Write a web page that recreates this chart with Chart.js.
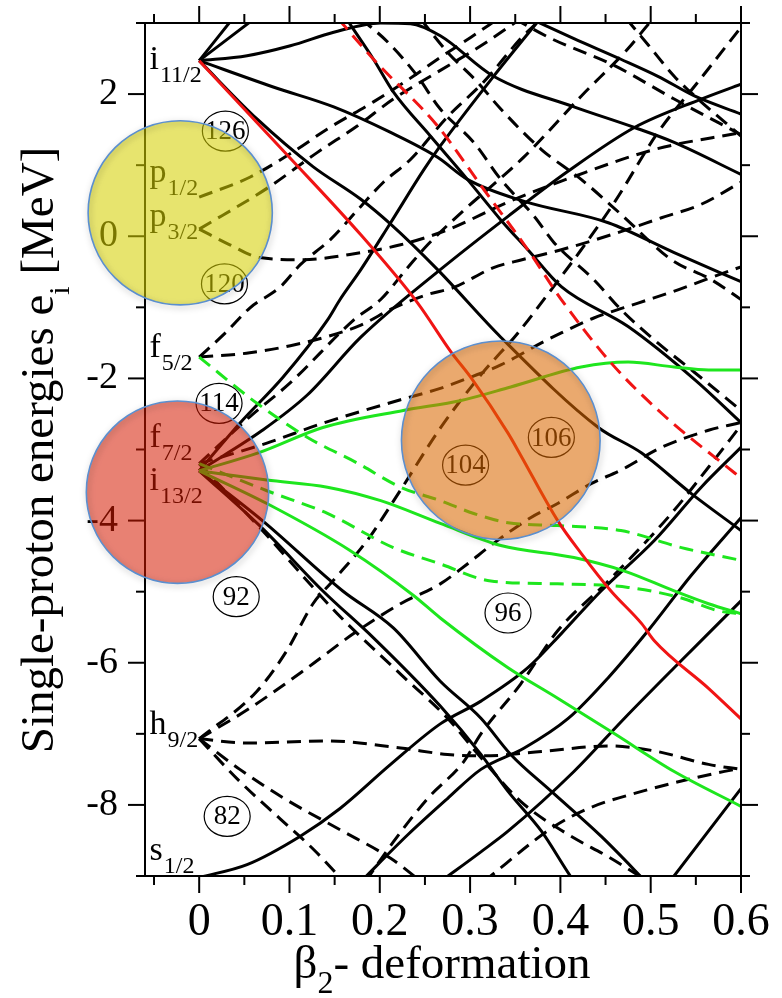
<!DOCTYPE html>
<html>
<head>
<meta charset="utf-8">
<script src="https://cdn.jsdelivr.net/npm/chart.js@4.4.1/dist/chart.umd.min.js"></script>
<style>
html, body { margin: 0; padding: 0; background: #fff; }
#wrap { position: relative; width: 782px; height: 998px; }
</style>
</head>
<body>
<div id="wrap"><canvas id="nilsson"></canvas></div>
<script>
// single-proton levels, [beta2, energy in MeV]

// tick labels
const xTicks = [0, 0.1, 0.2, 0.3, 0.4, 0.5, 0.6];
const yTicks = [-8, -6, -4, -2, 0, 2];

// i11/2 (solid)
const i11_l1 = [[0, 2.47], [0.037, 3.06]];
const i11_l2 = [[0, 2.47], [0.061, 3.06]];
const i11_l3 = [[0, 2.47], [0.053, 2.54], [0.101, 2.68], [0.149, 2.87], [0.201, 3.0], [0.234, 2.99], [0.267, 2.82], [0.326, 2.25], [0.415, 1.82], [0.482, 1.53], [0.526, 1.32], [0.6, 0.87]];
const i11_l4 = [[0, 2.47], [0.082, 2.10], [0.149, 1.82], [0.212, 1.46], [0.264, 1.11], [0.297, 0.80], [0.36, 0.49], [0.453, 0.19], [0.526, -0.23], [0.6, -0.64]];
const i11_l5 = [[0, 2.47], [0.064, 1.65], [0.126, 0.98], [0.179, 0.52], [0.212, 0.17], [0.264, -0.47], [0.334, -1.42], [0.442, -2.69], [0.49, -3.05], [0.545, -3.62], [0.6, -4.14]];
const i11_red = [[0, 2.47], [0.097, 1.15], [0.179, 0.02], [0.242, -0.94], [0.279, -1.63], [0.301, -1.99], [0.342, -2.77], [0.356, -3.08], [0.397, -4.0], [0.423, -4.46], [0.456, -4.99], [0.49, -5.45], [0.504, -5.69], [0.564, -6.36], [0.6, -6.79]];

// levels coming in from above
const top_red = [[0.154, 3.06], [0.193, 2.49], [0.264, 1.55], [0.315, 0.66], [0.364, -0.19], [0.401, -0.89], [0.456, -1.78], [0.512, -2.49], [0.593, -3.33], [0.6, -3.4]];
const top_t1 = [[0.163, 3.06], [0.193, 2.49], [0.215, 2.03], [0.256, 1.41], [0.297, 0.80], [0.334, 0.23], [0.364, -0.19], [0.401, -0.71], [0.475, -1.27], [0.549, -2.02], [0.6, -2.62]];
const top_g = [[0.367, 3.06], [0.415, 2.78], [0.467, 2.49], [0.508, 2.25], [0.549, 1.97], [0.6, 1.72]];
const top_d1 = [[0.349, 3.06], [0.39, 2.78], [0.46, 2.4], [0.526, 1.93], [0.6, 1.43]];
const top_d2 = [[0.473, 3.06], [0.498, 2.68], [0.526, 2.25], [0.549, 1.97], [0.6, 1.41]];
const top_d3 = [[0.245, 3.06], [0.275, 2.59], [0.308, 2.17], [0.334, 1.79], [0.379, 1.22], [0.423, 0.8], [0.467, 0.31], [0.523, -0.33], [0.567, -0.61], [0.6, -0.89]];
const top_d4 = [[0.179, 3.06], [0.209, 2.73], [0.24, 2.28], [0.267, 1.79], [0.304, 1.32], [0.334, 0.8], [0.371, 0.28], [0.393, -0.09], [0.437, -0.61], [0.467, -1.03], [0.504, -1.46], [0.549, -1.92], [0.6, -2.45]];

// p1/2, p3/2 (dashed)
const p1_up = [[0, 0.55], [0.056, 0.83], [0.108, 1.22], [0.142, 1.51], [0.193, 1.89], [0.237, 2.25], [0.264, 2.49], [0.301, 2.8], [0.331, 3.06]];
const p3_up = [[0, 0.1], [0.077, 0.69], [0.131, 1.18], [0.175, 1.55], [0.215, 1.93], [0.264, 2.31], [0.312, 2.68], [0.356, 3.06]];
const p3_dn = [[0, 0.1], [0.034, -0.12], [0.067, -0.3], [0.115, -0.33], [0.179, -0.23], [0.223, -0.12], [0.275, 0.09], [0.342, 0.48], [0.415, 0.84], [0.504, 1.22], [0.6, 1.46]];

// f5/2 (dashed)
const f5_a = [[0, -1.7], [0.056, -1.64], [0.101, -1.54], [0.145, -1.4], [0.179, -1.25], [0.215, -1.01], [0.253, -0.82], [0.282, -0.72], [0.326, -0.44], [0.348, -0.36], [0.401, -0.19], [0.456, 0.02], [0.512, 0.26], [0.556, 0.45], [0.6, 0.76]];
const f5_b = [[0, -1.7], [0.029, -1.36], [0.056, -1.01], [0.09, -0.71], [0.112, -0.4], [0.145, -0.05], [0.179, 0.42], [0.204, 0.76], [0.234, 1.08], [0.275, 1.68], [0.315, 2.17], [0.356, 2.78], [0.375, 3.02], [0.381, 3.11]];
const f5_green = [[0, -1.7], [0.064, -2.35], [0.12, -2.83], [0.175, -3.19], [0.223, -3.53], [0.267, -3.72], [0.304, -3.9], [0.342, -4.03], [0.397, -4.07], [0.467, -4.14], [0.534, -4.38], [0.6, -4.56]];

// f7/2 (dashed)
const f7_b = [[0, -3.2], [0.056, -2.54], [0.101, -2.06], [0.171, -1.18], [0.201, -0.89], [0.231, -0.44], [0.253, -0.12], [0.29, 0.33], [0.36, 1.12], [0.423, 1.97], [0.475, 2.64], [0.5, 3.02], [0.506, 3.1]];
const f7_d = [[0, -3.2], [0.075, -2.91], [0.137, -2.63], [0.223, -2.3], [0.267, -2.14], [0.301, -1.98], [0.334, -1.81], [0.379, -1.5], [0.401, -1.36], [0.437, -1.15], [0.486, -0.94], [0.531, -0.75], [0.567, -0.58], [0.6, -0.43]];
const f7_green = [[0, -3.2], [0.075, -3.58], [0.142, -3.9], [0.215, -4.38], [0.267, -4.61], [0.323, -4.85], [0.397, -4.89], [0.475, -4.94], [0.534, -5.09], [0.575, -5.27], [0.6, -5.31]];
const f7_dn = [[0, -3.2], [0.07, -4.14], [0.153, -5.31], [0.223, -6.16], [0.275, -6.78], [0.309, -7.29], [0.356, -7.95], [0.409, -8.42], [0.453, -8.73], [0.49, -9.02], [0.5, -9.1]];

// i13/2 (solid)
const i13_a = [[0, -3.3], [0.045, -2.63], [0.093, -1.98], [0.142, -1.18], [0.156, -0.89], [0.179, -0.47], [0.212, 0.19], [0.249, 0.94], [0.267, 1.27], [0.326, 2.25], [0.375, 3.02], [0.384, 3.16]];
const i13_c = [[0, -3.3], [0.07, -2.73], [0.12, -2.23], [0.179, -1.42], [0.267, -0.47], [0.342, 0.28], [0.408, 0.91], [0.482, 1.53], [0.556, 1.93], [0.6, 2.14]];
const i13_ga = [[0, -3.3], [0.067, -3.04], [0.137, -2.69], [0.226, -2.45], [0.29, -2.31], [0.345, -2.12], [0.423, -1.84], [0.475, -1.77], [0.526, -1.84], [0.564, -1.88], [0.6, -1.88]];
const i13_gb = [[0, -3.3], [0.075, -3.43], [0.142, -3.53], [0.201, -3.72], [0.267, -4.04], [0.334, -4.35], [0.415, -4.52], [0.471, -4.71], [0.526, -4.99], [0.564, -5.17], [0.6, -5.31]];
const i13_gc = [[0, -3.3], [0.075, -3.76], [0.167, -4.42], [0.237, -5.05], [0.267, -5.37], [0.342, -6.07], [0.397, -6.5], [0.46, -7.0], [0.526, -7.53], [0.6, -8.02]];
const i13_s1 = [[0, -3.3], [0.07, -4.0], [0.159, -4.99], [0.215, -5.51], [0.267, -6.26], [0.312, -6.78], [0.345, -7.29], [0.39, -7.81], [0.445, -8.44], [0.49, -9.02], [0.499, -9.14]];
const i13_s2 = [[0, -3.3], [0.07, -4.11], [0.137, -4.99], [0.193, -5.65], [0.267, -6.61], [0.312, -7.29], [0.342, -7.81], [0.379, -8.37], [0.412, -9.02], [0.419, -9.14]];

// h9/2 (dashed)
const h9_1 = [[0, -7.07], [0.064, -6.4], [0.097, -5.83], [0.126, -5.17], [0.148, -4.85], [0.186, -4.28], [0.223, -3.57], [0.267, -2.7], [0.312, -1.95], [0.353, -1.36], [0.39, -0.75], [0.423, -0.19], [0.46, 0.48], [0.508, 1.46], [0.553, 2.18], [0.6, 2.94]];
const h9_2 = [[0, -7.07], [0.056, -6.64], [0.12, -6.07], [0.171, -5.59], [0.223, -5.17], [0.267, -4.89], [0.297, -4.61], [0.323, -4.35], [0.367, -3.96], [0.397, -3.76], [0.434, -3.48], [0.467, -3.29], [0.512, -2.97], [0.564, -2.73], [0.6, -2.62]];
const h9_3 = [[0, -7.07], [0.053, -7.13], [0.142, -7.1], [0.223, -7.2], [0.275, -7.29], [0.315, -7.31], [0.379, -7.25], [0.453, -7.17], [0.504, -7.24], [0.564, -7.43], [0.6, -7.5]];
const h9_4 = [[0, -7.07], [0.045, -7.5], [0.093, -7.9], [0.156, -8.35], [0.212, -8.75], [0.24, -9.02], [0.25, -9.12]];
const h9_5 = [[0, -7.07], [0.045, -7.67], [0.09, -8.2], [0.127, -8.63], [0.156, -9.02], [0.165, -9.14]];

// s1/2 and levels coming in from below
const s1_a = [[0, -9.02], [0.053, -8.84], [0.112, -8.44], [0.156, -8.05], [0.212, -7.43], [0.267, -6.86], [0.312, -6.54], [0.364, -6.07], [0.401, -5.59], [0.445, -4.99], [0.504, -4.28], [0.556, -3.53], [0.6, -2.97]];
const bot_r2 = [[0.179, -9.08], [0.231, -8.42], [0.275, -7.91], [0.312, -7.5], [0.36, -7.2], [0.409, -6.78], [0.453, -6.21], [0.497, -5.55], [0.545, -4.77], [0.6, -3.96]];
const bot_r3 = [[0.267, -9.08], [0.312, -8.66], [0.342, -8.37], [0.415, -7.53], [0.471, -6.78], [0.526, -6.07], [0.6, -5.13]];
const bot_r5 = [[0.521, -9.08], [0.6, -7.77]];
const bot_d1 = [[0.184, -9.08], [0.215, -8.52], [0.253, -7.91], [0.293, -7.39], [0.312, -7.0], [0.356, -6.3], [0.397, -5.55], [0.453, -4.85], [0.523, -3.9], [0.564, -3.25], [0.6, -2.66]];
const bot_d2 = [[0.315, -9.08], [0.39, -8.33], [0.431, -8.05], [0.49, -7.81], [0.545, -7.63], [0.6, -7.48]];

// spherical shell labels: letter, subscript, baseline energy
const shellLabels = [['i', '11/2', 2.353], ['p', '1/2', 0.758], ['p', '3/2', 0.151], ['f', '5/2', -1.698],
  ['f', '7/2', -2.968], ['i', '13/2', -3.575], ['h', '9/2', -7.005], ['s', '1/2', -8.769]];
// circled proton numbers
const gapLabels = [['126', 0.029, 1.48], ['120', 0.028, -0.67], ['114', 0.022, -2.35], ['92', 0.041, -5.07],
  ['82', 0.031, -8.16], ['96', 0.342, -5.3], ['104', 0.295, -3.22], ['106', 0.39, -2.83]];
// highlight discs: centre x, centre y, radius (in beta2 units)
const discs = [[-0.021, 0.33, 0.102, 'rgba(212,208,0,0.57)'],
  [-0.024, -3.6, 0.101, 'rgba(213,26,0,0.55)'],
  [0.334, -2.87, 0.11, 'rgba(218,104,0,0.57)']];

const RED = '#f01414', GREEN = '#1ee61e', BLACK = '#000000';
const FONT = '"Liberation Serif", "Times New Roman", serif';

// first entries end up on top
const series = [
  [i11_red, RED, false], [top_red, RED, true],
  [i13_ga, GREEN, false], [i13_gb, GREEN, false], [i13_gc, GREEN, false],
  [f5_green, GREEN, true], [f7_green, GREEN, true],
  [i11_l1, BLACK, false], [i11_l2, BLACK, false], [i11_l3, BLACK, false], [i11_l4, BLACK, false], [i11_l5, BLACK, false],
  [top_t1, BLACK, false], [top_g, BLACK, false],
  [i13_a, BLACK, false], [i13_c, BLACK, false], [i13_s1, BLACK, false], [i13_s2, BLACK, false],
  [s1_a, BLACK, false], [bot_r2, BLACK, false], [bot_r3, BLACK, false], [bot_r5, BLACK, false],
  [top_d1, BLACK, true], [top_d2, BLACK, true], [top_d3, BLACK, true], [top_d4, BLACK, true],
  [p1_up, BLACK, true], [p3_up, BLACK, true], [p3_dn, BLACK, true],
  [f5_a, BLACK, true], [f5_b, BLACK, true],
  [f7_b, BLACK, true], [f7_d, BLACK, true], [f7_dn, BLACK, true],
  [h9_1, BLACK, true], [h9_2, BLACK, true], [h9_3, BLACK, true], [h9_4, BLACK, true], [h9_5, BLACK, true],
  [bot_d1, BLACK, true], [bot_d2, BLACK, true]
];

const datasets = series.map(([pts, color, dashed]) => ({
  data: pts.map(p => ({ x: p[0], y: p[1] })),
  showLine: true,
  borderColor: color,
  borderWidth: 3,
  borderDash: dashed ? [14, 8] : [],
  pointRadius: 0,
  cubicInterpolationMode: 'monotone'
}));

function seg(ctx, x1, y1, x2, y2) {
  ctx.beginPath(); ctx.moveTo(x1, y1); ctx.lineTo(x2, y2); ctx.stroke();
}

// keep the plot box where the figure has it: no extra label padding
function noPad(s) {
  s.paddingTop = 0; s.paddingBottom = 0; s.paddingLeft = 0; s.paddingRight = 0;
}

const decorations = {
  id: 'decorations',
  afterDatasetsDraw(chart) {
    const { ctx, chartArea: a, scales: { x, y } } = chart;
    ctx.save();
    // frame with outward ticks on all four sides
    ctx.strokeStyle = '#000';
    ctx.lineWidth = 2;
    ctx.strokeRect(a.left, a.top, a.right - a.left, a.bottom - a.top);
    for (let i = -1; i <= 12; i++) {
      const px = x.getPixelForValue(i * 0.05);
      const len = i % 2 === 0 ? 17 : 9;
      seg(ctx, px, a.bottom, px, a.bottom + len);
      seg(ctx, px, a.top, px, a.top - len);
    }
    for (let v = -9; v <= 3; v++) {
      const py = y.getPixelForValue(v);
      const len = v % 2 === 0 ? 17 : 9;
      seg(ctx, a.left - len, py, a.left, py);
      seg(ctx, a.right, py, a.right + len, py);
    }
    // shell labels
    ctx.fillStyle = '#000';
    ctx.textBaseline = 'alphabetic';
    ctx.textAlign = 'left';
    const lx = x.getPixelForValue(-0.055);
    shellLabels.forEach(([main, sub, e]) => {
      const py = y.getPixelForValue(e);
      ctx.font = '34px ' + FONT;
      ctx.fillText(main, lx, py);
      const w = ctx.measureText(main).width;
      ctx.font = '24px ' + FONT;
      ctx.fillText(sub, lx + w + 1, py + 13);
    });
    // circled numbers
    ctx.lineWidth = 1.2;
    ctx.textAlign = 'center';
    ctx.textBaseline = 'middle';
    ctx.font = '27px ' + FONT;
    gapLabels.forEach(([t, bx, e]) => {
      const px = x.getPixelForValue(bx), py = y.getPixelForValue(e);
      ctx.beginPath();
      ctx.ellipse(px, py, 23, 20, 0, 0, Math.PI * 2);
      ctx.stroke();
      ctx.fillText(t, px, py + 1);
    });
    ctx.restore();
  },
  afterDraw(chart) {
    const { ctx, scales: { x, y } } = chart;
    ctx.save();
    ctx.fillStyle = '#000';
    ctx.textBaseline = 'alphabetic';
    ctx.textAlign = 'left';
    // y title, rotated, with subscript i
    ctx.save();
    ctx.translate(53, 450);
    ctx.rotate(-Math.PI / 2);
    const t1 = 'Single-proton energies e', t2 = 'i', t3 = ' [MeV]';
    ctx.font = '47px ' + FONT;
    const w1 = ctx.measureText(t1).width, w3 = ctx.measureText(t3).width;
    ctx.font = '30px ' + FONT;
    const w2 = ctx.measureText(t2).width;
    let sx = -(w1 + w2 + w3) / 2;
    ctx.font = '47px ' + FONT;
    ctx.fillText(t1, sx, 0);
    ctx.font = '30px ' + FONT;
    ctx.fillText(t2, sx + w1, 16);
    ctx.font = '47px ' + FONT;
    ctx.fillText(t3, sx + w1 + w2, 0);
    ctx.restore();
    // x title with subscript 2
    const b1 = '\u03b2', b2 = '2', b3 = '- deformation';
    ctx.font = '47px ' + FONT;
    const v1 = ctx.measureText(b1).width, v3 = ctx.measureText(b3).width;
    ctx.font = '32px ' + FONT;
    const v2 = ctx.measureText(b2).width;
    let bx = 442 - (v1 + v2 + v3) / 2;
    ctx.font = '47px ' + FONT;
    ctx.fillText(b1, bx, 978);
    ctx.font = '32px ' + FONT;
    ctx.fillText(b2, bx + v1, 993);
    ctx.font = '47px ' + FONT;
    ctx.fillText(b3, bx + v1 + v2, 978);
    // translucent highlight discs on top of everything
    discs.forEach(([cx, cy, r, fill]) => {
      const px = x.getPixelForValue(cx), py = y.getPixelForValue(cy);
      const rp = x.getPixelForValue(cx + r) - px;
      ctx.beginPath();
      ctx.arc(px, py, rp, 0, Math.PI * 2);
      ctx.fillStyle = fill;
      ctx.fill();
      ctx.shadowColor = 'rgba(0,0,0,0.35)';
      ctx.shadowBlur = 6;
      ctx.shadowOffsetX = 1;
      ctx.shadowOffsetY = 2;
      ctx.strokeStyle = '#5b8fcf';
      ctx.lineWidth = 1.6;
      ctx.stroke();
      ctx.shadowColor = 'transparent';
    });
    ctx.restore();
  }
};

const fmt = v => (Math.abs(v) < 1e-9 ? '0' : String(Math.round(v * 10) / 10));

new Chart(document.getElementById('nilsson'), {
  type: 'scatter',
  data: { datasets: datasets },
  options: {
    responsive: true,
    maintainAspectRatio: false,
    animation: false,
    events: [],
    layout: { padding: { left: 0, top: 23, right: 41, bottom: 0 } },
    plugins: { legend: { display: false }, tooltip: { enabled: false } },
    scales: {
      x: {
        type: 'linear', min: -0.06, max: 0.6,
        afterFit: s => { s.height = 122; noPad(s); },
        afterBuildTicks: s => { s.ticks = xTicks.map(v => ({ value: v })); },
        grid: { display: false, drawTicks: false },
        border: { display: false },
        ticks: { autoSkip: false, maxRotation: 0, padding: 19,
          color: '#000', font: { family: FONT, size: 46 }, callback: fmt }
      },
      y: {
        type: 'linear', min: -9, max: 3,
        afterFit: s => { s.width = 145; noPad(s); },
        afterBuildTicks: s => { s.ticks = yTicks.map(v => ({ value: v })); },
        grid: { display: false, drawTicks: false },
        border: { display: false },
        ticks: { padding: 27,
          color: '#000', font: { family: FONT, size: 38 }, callback: fmt }
      }
    }
  },
  plugins: [decorations]
});
</script>
</body>
</html>
